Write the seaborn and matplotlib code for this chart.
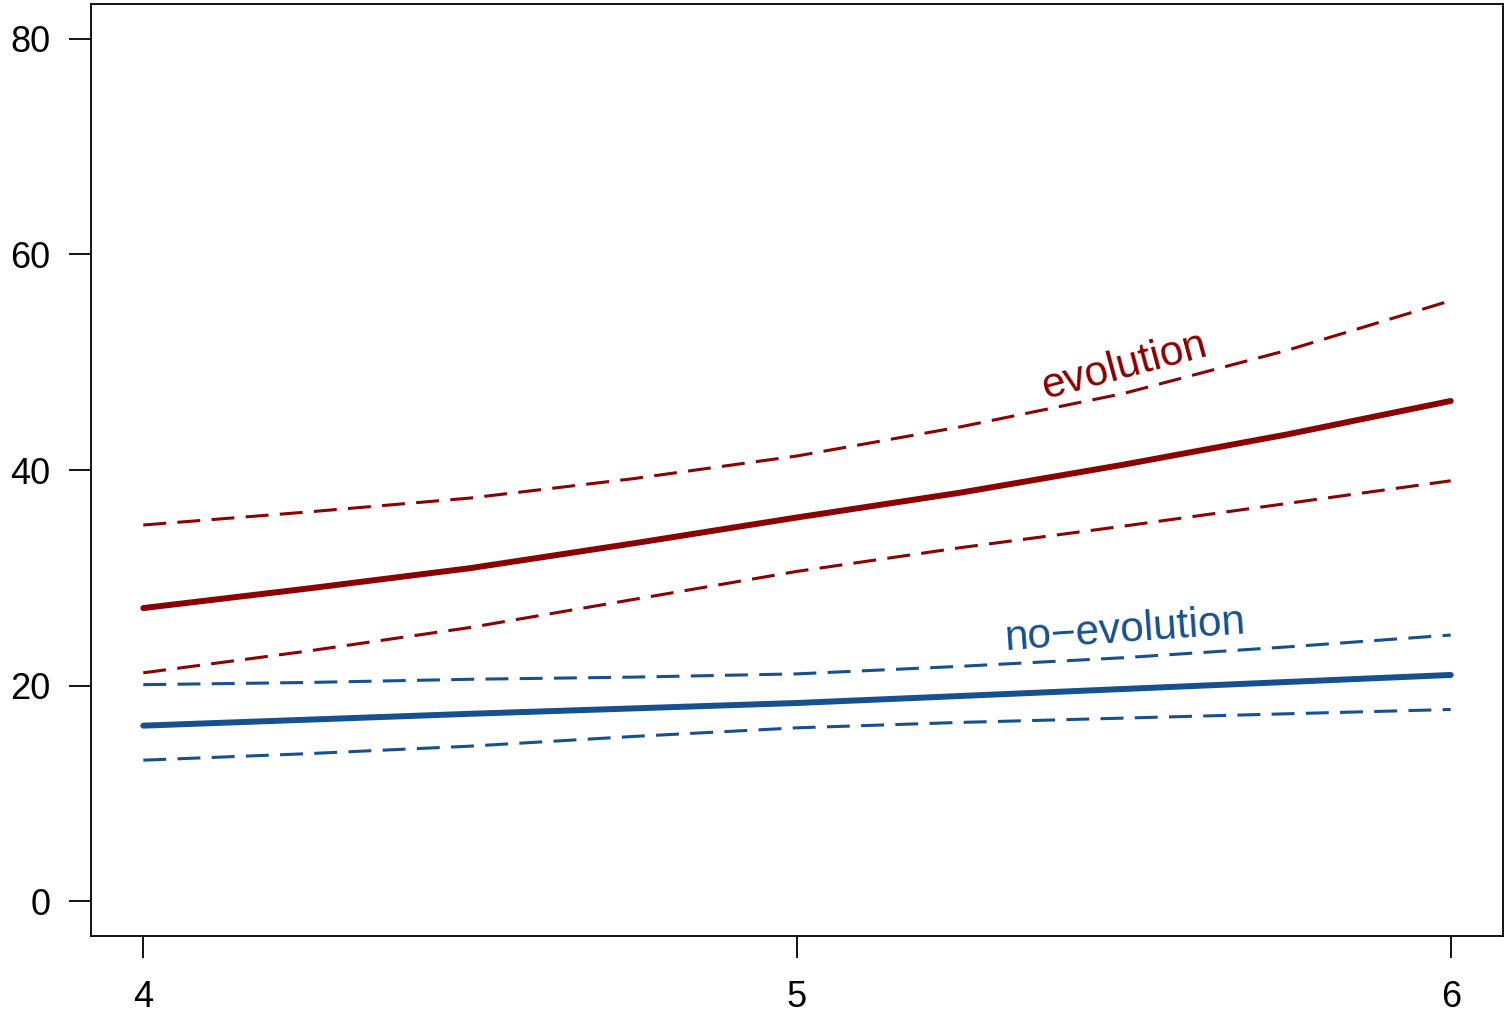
import numpy as np
import pandas as pd
import matplotlib
matplotlib.use("Agg")
import matplotlib.pyplot as plt
import seaborn as sns

x_vals = [4.0, 4.25, 4.5, 4.75, 5.0, 5.25, 5.5, 5.75, 6.0]
evo_mean = [27.2, 29.0, 30.9, 33.2, 35.6, 37.9, 40.5, 43.3, 46.4]
evo_upper = [34.9, 36.1, 37.4, 39.2, 41.3, 44.0, 47.1, 51.1, 55.7]
evo_lower = [21.2, 23.2, 25.4, 28.0, 30.6, 32.8, 34.8, 36.9, 39.0]
noevo_mean = [16.3, 16.85, 17.4, 17.9, 18.4, 19.05, 19.7, 20.35, 21.0]
noevo_upper = [20.1, 20.3, 20.6, 20.8, 21.1, 21.8, 22.6, 23.6, 24.7]
noevo_lower = [13.1, 13.7, 14.4, 15.3, 16.1, 16.6, 17.0, 17.4, 17.8]
x_ticks = [4, 5, 6]
y_ticks = [0, 20, 40, 60, 80]

RED = "#8B0000"
BLUE = "#17508F"

sns.set_theme(style="white")
plt.rcParams['font.family'] = ['Liberation Sans', 'DejaVu Sans']

fig = plt.figure(figsize=(15.06, 10.17), dpi=100)
ax = fig.add_axes([91/1506, 1-936/1017, (1503-91)/1506, (936-4)/1017])

def draw(y, color, lw, dashed):
    df = pd.DataFrame({"x": x_vals, "y": y})
    sns.lineplot(data=df, x="x", y="y", ax=ax, color=color, linewidth=lw, estimator=None)
    ln = ax.lines[-1]
    if dashed:
        ln.set_dashes((7.5, 3.7))
    else:
        ln.set_solid_capstyle("round")
    ln.set_solid_joinstyle("round")

draw(evo_upper, RED, 2.2, True)
draw(evo_lower, RED, 2.2, True)
draw(evo_mean, RED, 4.3, False)
draw(noevo_upper, BLUE, 2.2, True)
draw(noevo_lower, BLUE, 2.2, True)
draw(noevo_mean, BLUE, 4.3, False)

ax.set_xlim(3.92, 6.08)
ax.set_ylim(-3.2, 83.2)
ax.set_xticks(x_ticks)
ax.set_yticks(y_ticks)
ax.set_xticklabels([str(v) for v in x_ticks])
ax.set_yticklabels([str(v) for v in y_ticks])
ax.set_xlabel("")
ax.set_ylabel("")
ax.tick_params(axis="both", direction="out", length=16, width=1.3, color="black",
               labelsize=26, labelcolor="black", pad=13, left=True, bottom=True)
ax.tick_params(axis="x", pad=16)
for s in ax.spines.values():
    s.set_visible(True)
    s.set_color("black")
    s.set_linewidth(1.3)
ax.grid(False)

ax.text(5.505, 48.6, "evolution", color=RED, fontsize=30.5, rotation=15,
        ha="center", va="baseline", rotation_mode="anchor")
ax.text(5.502, 24.1, "no\u2212evolution", color=BLUE, fontsize=30.5, rotation=4.0,
        ha="center", va="baseline", rotation_mode="anchor")

fig.savefig("out.png", dpi=100)
